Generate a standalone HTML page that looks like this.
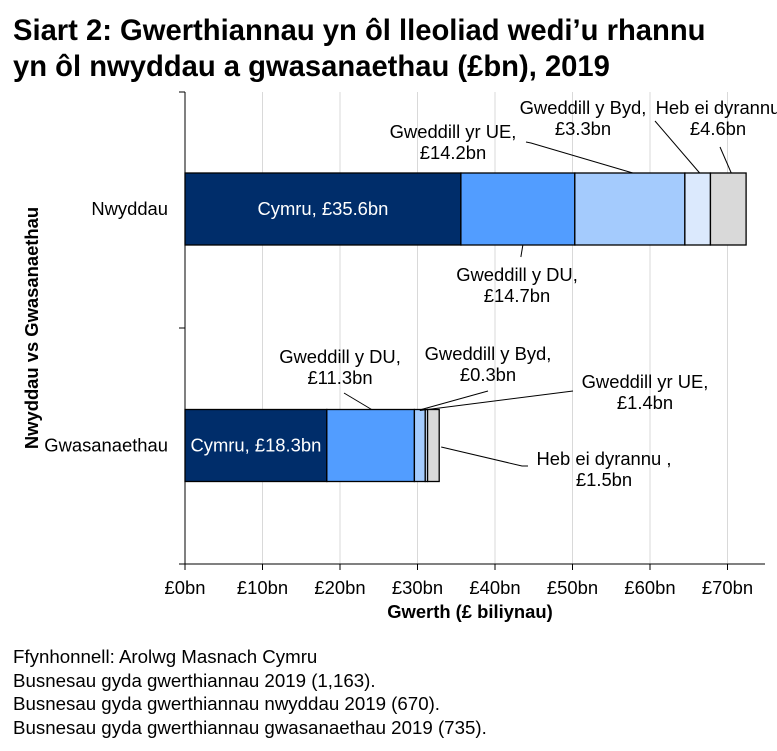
<!DOCTYPE html>
<html><head><meta charset="utf-8"><style>
body{margin:0;background:#fff;font-family:"Liberation Sans",Arial,sans-serif;}
#wrap{position:relative;width:777px;height:751px;overflow:hidden;}
h1{position:absolute;left:13px;top:13px;margin:0;font-size:29.2px;line-height:36px;font-weight:bold;color:#000;white-space:nowrap;}
.notes{position:absolute;left:13px;top:645px;font-size:18.7px;line-height:23.5px;color:#000;white-space:nowrap;}
</style></head><body>
<div id="wrap">
<svg id="chart" width="777" height="640" style="position:absolute;left:0;top:0"></svg>
<h1>Siart 2: Gwerthiannau yn ôl lleoliad wedi’u rhannu<br>yn ôl nwyddau a gwasanaethau (£bn), 2019</h1>
<div class="notes">Ffynhonnell: Arolwg Masnach Cymru<br>Busnesau gyda gwerthiannau 2019 (1,163).<br>Busnesau gyda gwerthiannau nwyddau 2019 (670).<br>Busnesau gyda gwerthiannau gwasanaethau 2019 (735).</div>
</div>
<script>
const categories=["Nwyddau","Gwasanaethau"];
const seriesNames=["Cymru","Gweddill y DU","Gweddill yr UE","Gweddill y Byd","Heb ei dyrannu"];
const nwyddauValues=[35.6,14.7,14.2,3.3,4.6];
const gwasanaethauValues=[18.3,11.3,1.4,0.3,1.5];
const xTicks=[0,10,20,30,40,50,60,70];
const xTickLabels=["£0bn","£10bn","£20bn","£30bn","£40bn","£50bn","£60bn","£70bn"];
const colors=["#002d6a","#529dff","#a4cbfd","#dbe9fd","#d9d9d9"];
const NS="http://www.w3.org/2000/svg";
const svg=document.getElementById('chart');
const x0=185,pxPer=7.75,plotTop=92,plotBottom=564,plotRight=765;
function X(v){return x0+v*pxPer;}
const catCenter=[209,445.5],barH=72;
const FS=18.4;
function el(t,a){const e=document.createElementNS(NS,t);for(const k in a)e.setAttribute(k,a[k]);svg.appendChild(e);return e;}
function txt(s,x,y,o){const e=el('text',Object.assign({x:x,y:y,'font-size':FS,'text-anchor':'middle',fill:'#000','font-family':'"Liberation Sans",sans-serif'},o||{}));e.textContent=s;return e;}
xTicks.forEach((t,i)=>{
 if(t>0){const g=el('line',{x1:X(t),x2:X(t),y1:plotTop,y2:plotBottom,stroke:'#d9d9d9','stroke-width':1});
 
 }
 const tk=el('line',{x1:X(t),x2:X(t),y1:plotBottom,y2:plotBottom+6,stroke:'#000'});
 
 
 const l=txt(xTickLabels[i],X(t),plotBottom+30);
 
 
});
const ax=el('line',{x1:x0,x2:plotRight,y1:plotBottom,y2:plotBottom,stroke:'#000'});


const ay=el('line',{x1:x0,x2:x0,y1:plotTop,y2:plotBottom,stroke:'#000'});


[plotTop,(plotTop+plotBottom)/2,plotBottom].forEach(y=>{const t=el('line',{x1:x0-6,x2:x0,y1:y,y2:y,stroke:'#000'});

});
const segEnds=[[],[]];
[nwyddauValues,gwasanaethauValues].forEach((vals,ci)=>{
 let acc=0;
 vals.forEach((v,si)=>{
  const r=el('rect',{x:X(acc),y:catCenter[ci]-barH/2,width:v*pxPer,height:barH,fill:colors[si],stroke:'#000','stroke-width':1.3});
  
  
  segEnds[ci].push([acc,acc+v]);acc+=v;
 });
 const cl=txt(categories[ci],168,catCenter[ci]+6,{'text-anchor':'end'});
 
 
});
let l1=txt('Cymru, £'+nwyddauValues[0]+'bn',X(nwyddauValues[0]/2),catCenter[0]+6,{fill:'#fff'});


let l2=txt('Cymru, £'+gwasanaethauValues[0]+'bn',X(gwasanaethauValues[0]/2),catCenter[1]+6,{fill:'#fff'});


function callout(name,lines,tx,ty,pts){
 const p=el('polyline',{points:pts.map(a=>a.join(',')).join(' '),fill:'none',stroke:'#000','stroke-width':1});
 
 
 lines.forEach((s,i)=>{const t=txt(s,tx,ty+i*21);
 
 });
}
const n=segEnds[0],g=segEnds[1],nt=catCenter[0]-barH/2,nb=catCenter[0]+barH/2,gt=catCenter[1]-barH/2;
callout('nwyddau-du',['Gweddill y DU,','£'+nwyddauValues[1]+'bn'],517,281,[[X((n[1][0]+n[1][1])/2)+5,nb],[X((n[1][0]+n[1][1])/2)+3,nb+12]]);
callout('nwyddau-ue',['Gweddill yr UE,','£'+nwyddauValues[2]+'bn'],453,138,[[526,142],[531,143],[X((n[2][0]+n[2][1])/2)+3,nt]]);
callout('nwyddau-byd',['Gweddill y Byd,','£'+nwyddauValues[3]+'bn'],583,114,[[655,121],[X((n[3][0]+n[3][1])/2)+2,nt]]);
callout('nwyddau-heb',['Heb ei dyrannu','£'+nwyddauValues[4]+'bn'],718,114,[[720,147],[X((n[4][0]+n[4][1])/2)+3,nt]]);
callout('gwas-du',['Gweddill y DU,','£'+gwasanaethauValues[1]+'bn'],340,363,[[344,393],[X((g[1][0]+g[1][1])/2)+1,gt]]);
callout('gwas-byd',['Gweddill y Byd,','£'+gwasanaethauValues[3]+'bn'],488,360,[[488,391],[X((g[3][0]+g[3][1])/2)-5,gt]]);
callout('gwas-ue',['Gweddill yr UE,','£'+gwasanaethauValues[2]+'bn'],645,388,[[573,391],[X((g[2][0]+g[2][1])/2),gt+1]]);
callout('gwas-heb',['Heb ei dyrannu ,','£'+gwasanaethauValues[4]+'bn'],604,465,[[X(g[4][1])+2,447],[522,466],[528,466]]);
const xt=txt('Gwerth (£ biliynau)',470,618,{'font-weight':'bold'});


const yt=txt('Nwyddau vs Gwasanaethau',0,0,{'font-weight':'bold',transform:'translate(38,328) rotate(-90)'});


</script>
</body></html>
